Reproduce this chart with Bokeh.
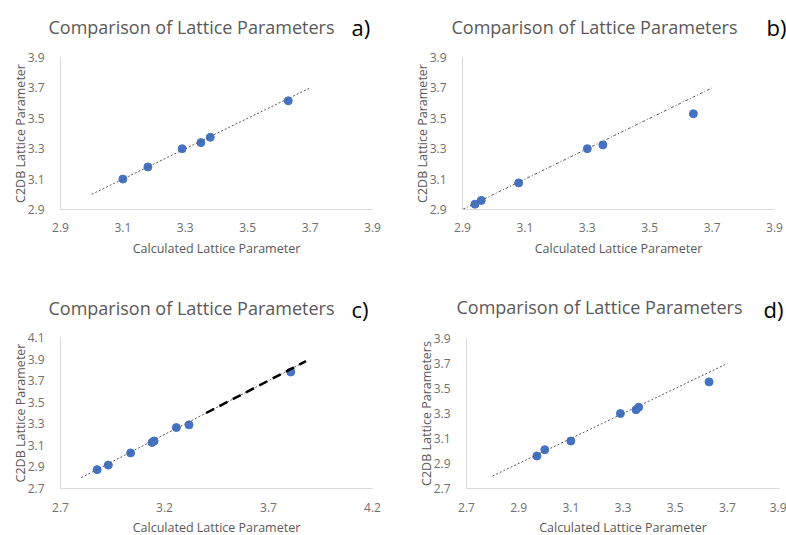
from bokeh.plotting import figure
from bokeh.layouts import column, row
from bokeh.models import Range1d, FixedTicker, PrintfTickFormatter, Label
from bokeh.embed import file_html
from bokeh.resources import INLINE

# ---- data -------------------------------------------------------------
# a) calculated vs C2DB lattice parameters
a_calc = [3.10, 3.18, 3.29, 3.35, 3.38, 3.63]
a_c2db = [3.10, 3.18, 3.30, 3.34, 3.375, 3.615]
a_fit_x = [3.0, 3.7]
a_fit_y = [3.0, 3.7]

# b)
b_calc = [2.94, 2.96, 3.08, 3.30, 3.35, 3.64]
b_c2db = [2.935, 2.96, 3.075, 3.30, 3.325, 3.53]
b_fit_x = [2.9, 3.7]
b_fit_y = [2.9, 3.7]

# c)
c_calc = [2.876, 2.93, 3.037, 3.14, 3.15, 3.257, 3.318, 3.807]
c_c2db = [2.875, 2.917, 3.03, 3.127, 3.14, 3.265, 3.29, 3.78]
c_fit_x = [2.8, 3.88]
c_fit_y = [2.8, 3.88]
c_ext_x = [3.4, 3.88]
c_ext_y = [3.4, 3.88]

# d)
d_calc = [2.97, 3.00, 3.10, 3.29, 3.35, 3.36, 3.63]
d_c2db = [2.96, 3.01, 3.08, 3.30, 3.33, 3.35, 3.553]
d_fit_x = [2.8, 3.7]
d_fit_y = [2.8, 3.7]

ticks_29_39 = [2.9, 3.1, 3.3, 3.5, 3.7, 3.9]
ticks_27_39 = [2.7, 2.9, 3.1, 3.3, 3.5, 3.7, 3.9]
ticks_c_x = [2.7, 3.2, 3.7, 4.2]
ticks_c_y = [2.7, 2.9, 3.1, 3.3, 3.5, 3.7, 3.9, 4.1]

TITLE = "Comparison of Lattice Parameters"
X_TITLE = "Calculated Lattice Parameter"

BLUE = "#4472C4"
TEXT_GREY = "#595959"
TICK_GREY = "#6E6E6E"
AXIS_GREY = "#D9D9D9"
FONT = "Open Sans"


def make_panel(width, height, left, axis_right, axis_top, axis_bottom,
               xr, yr, xticks, yticks, ytitle, letter,
               title_cx, title_cy, letter_x, letter_cy, xstand, xlstand):
    # The frame covers the whole panel; both axes are pinned at the lower
    # left corner of the data extent so headings and labels fit around them.
    sx = (xr[1] - xr[0]) / (axis_right - left)
    sy = (yr[1] - yr[0]) / (axis_bottom - axis_top)
    x_start = xr[0] - left * sx
    x_end = xr[1] + (width - axis_right) * sx
    y_start = yr[0] - (height - axis_bottom) * sy
    y_end = yr[1] + axis_top * sy

    p = figure(width=width, height=height, output_backend="svg",
               toolbar_location=None, title=None,
               x_range=Range1d(x_start, x_end), y_range=Range1d(y_start, y_end),
               min_border_left=0, min_border_right=0,
               min_border_top=0, min_border_bottom=0)
    p.outline_line_color = None
    p.xgrid.visible = False
    p.ygrid.visible = False
    p.background_fill_color = "white"
    p.border_fill_color = "white"

    for ax, tk, bnd in ((p.xaxis[0], xticks, xr), (p.yaxis[0], yticks, yr)):
        ax.bounds = bnd
        ax.ticker = FixedTicker(ticks=tk)
        ax.formatter = PrintfTickFormatter(format="%.1f")
        ax.axis_line_color = AXIS_GREY
        ax.axis_line_width = 1
        ax.major_tick_line_color = None
        ax.minor_tick_line_color = None
        ax.major_label_text_color = TICK_GREY
        ax.major_label_text_font = FONT
        ax.major_label_text_font_size = "12px"
        ax.axis_label_text_color = TEXT_GREY
        ax.axis_label_text_font = FONT
        ax.axis_label_text_font_size = "12.5px"
        ax.axis_label_text_font_style = "normal"

    p.xaxis.fixed_location = yr[0]
    p.yaxis.fixed_location = xr[0]
    p.xaxis.axis_label = X_TITLE
    p.yaxis.axis_label = ytitle
    p.xaxis.major_label_standoff = xstand
    p.xaxis.axis_label_standoff = xlstand
    p.yaxis.major_label_standoff = 10
    p.yaxis.axis_label_standoff = -4

    def to_data(px, py):
        return x_start + px * sx, y_end - py * sy

    tx, ty = to_data(title_cx, title_cy)
    p.add_layout(Label(x=tx, y=ty, text=TITLE, text_align="center",
                       text_baseline="middle", text_font=FONT,
                       text_font_size="18px", text_color=TEXT_GREY))
    lx, ly = to_data(letter_x, letter_cy)
    p.add_layout(Label(x=lx, y=ly, text=letter, text_align="left",
                       text_baseline="middle", text_font=FONT,
                       text_font_size="22px", text_color="black"))
    return p


pa = make_panel(393, 267, 60, 372, 57, 209, (2.9, 3.9), (2.9, 3.9),
                ticks_29_39, ticks_29_39, "C2DB Lattice Parameter", "a)",
                191, 26, 351, 26, 7, 5)
pa.scatter(a_calc, a_c2db, size=8, color=BLUE)
pa.line(a_fit_x, a_fit_y, line_color=TEXT_GREY, line_width=1, line_dash="2 2")

pb = make_panel(393, 267, 69, 381, 57, 209, (2.9, 3.9), (2.9, 3.9),
                ticks_29_39, ticks_29_39, "C2DB Lattice Parameter", "b)",
                201, 26, 373, 26, 7, 5)
pb.scatter(b_calc, b_c2db, size=8, color=BLUE)
pb.line(b_fit_x, b_fit_y, line_color=TEXT_GREY, line_width=1, line_dash="3 2 1 2")

pc = make_panel(393, 268, 60, 372, 70, 221, (2.7, 4.2), (2.7, 4.1),
                ticks_c_x, ticks_c_y, "C2DB Lattice Parameter", "c)",
                191, 40, 351, 41, 8, 4)
pc.scatter(c_calc, c_c2db, size=8, color=BLUE)
pc.line(c_fit_x, c_fit_y, line_color=TEXT_GREY, line_width=1, line_dash="2 2")
pc.line(c_ext_x, c_ext_y, line_color="black", line_width=2.5, line_dash="9 6")

pd_ = make_panel(393, 268, 73, 386, 71, 221, (2.7, 3.9), (2.7, 3.9),
                 ticks_27_39, ticks_27_39, "C2DB Lattice Parameters", "d)",
                 206, 39, 370, 41, 8, 4)
pd_.scatter(d_calc, d_c2db, size=8, color=BLUE)
pd_.line(d_fit_x, d_fit_y, line_color=TEXT_GREY, line_width=1, line_dash="2 2")

layout = column(row(pa, pb), row(pc, pd_))

open("out.html", "w").write(file_html(layout, INLINE))
